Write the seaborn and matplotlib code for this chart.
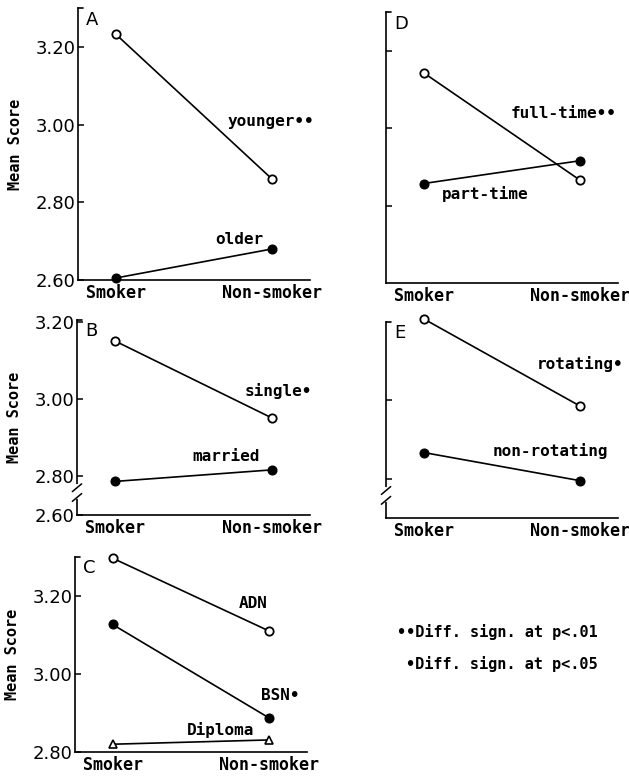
import pandas as pd
import seaborn as sns
import matplotlib.pyplot as plt

groups = ['Smoker', 'Non-smoker']

# panel A: age
younger = [3.233, 2.859]
older = [2.605, 2.680]
# panel B: marital status
single = [3.151, 2.951]
married = [2.787, 2.817]
# panel C: education
adn = [3.297, 3.110]
bsn = [3.127, 2.887]
diploma = [2.820, 2.831]
# panel D: employment
fulltime = [3.143, 2.865]
parttime = [2.857, 2.916]
# panel E: shift
rotating = [3.208, 2.985]
nonrotating = [2.867, 2.795]

sns.set_style('ticks')
plt.rcParams['font.family'] = ['DejaVu Sans']
for k in ['text.color', 'axes.labelcolor', 'xtick.color', 'ytick.color', 'axes.edgecolor']:
    plt.rcParams[k] = 'black'

LAB = dict(family='DejaVu Sans Mono', weight='bold')
OPEN = dict(marker='o', markerfacecolor='white', markeredgecolor='black', markersize=6, markeredgewidth=1.3)
FILL = dict(marker='o', markerfacecolor='black', markeredgecolor='black', markersize=6.5)
TRI = dict(marker='^', markerfacecolor='white', markeredgecolor='black', markersize=6, markeredgewidth=1.2)

fig = plt.figure(figsize=(6.29, 7.76), dpi=100)


def panel(rect, letter, ylim, yticks, ylabels, series, texts, ylabel=True, brk=None):
    ax = fig.add_axes(rect)
    for vals, style in series:
        df = pd.DataFrame({'group': groups, 'score': vals})
        sns.lineplot(data=df, x='group', y='score', ax=ax, sort=False, color='black',
                     lw=1.2, clip_on=False, zorder=5, **style)
    ax.set_xlim(-0.24, 1.24)
    ax.set_ylim(*ylim)
    ax.set_yticks(yticks)
    ax.set_yticklabels(ylabels, fontsize=13)
    ax.set_xlabel('')
    ax.set_xticks([0, 1])
    ax.set_xticklabels(groups, fontsize=12, **LAB)
    ax.tick_params(axis='x', length=0, pad=3)
    ax.tick_params(axis='y', direction='in', length=4, width=1.1, pad=2)
    sns.despine(ax=ax)
    for s in ['left', 'bottom']:
        ax.spines[s].set_linewidth(1.2)
    # bracket at the top of the y axis
    ax.plot([0, 0.02], [1, 1], transform=ax.transAxes, color='black', lw=1.2, clip_on=False)
    if brk is not None:
        ax.plot([0, 0], [brk - 0.02, brk + 0.04], transform=ax.transAxes, color='white', lw=3, clip_on=False, zorder=6)
        for dy in (-0.02, 0.03):
            ax.plot([-0.02, 0.02], [brk + dy - 0.02, brk + dy + 0.02], transform=ax.transAxes,
                    color='black', lw=1.1, clip_on=False, zorder=7)
    ax.text(0.035, 0.99, letter, transform=ax.transAxes, fontsize=13, va='top', ha='left')
    for tx, x, y in texts:
        ax.text(x, y, tx, fontsize=11.5, ha='center', va='center', **LAB)
    if ylabel:
        ax.set_ylabel('Mean Score', fontsize=11, **LAB)
        ax.yaxis.set_label_coords(-0.235, 0.5)
    else:
        ax.set_ylabel('')
    return ax


panel([0.124, 0.6392, 0.3688, 0.3505], 'A', (2.60, 3.30),
      [2.60, 2.80, 3.00, 3.20], ['2.60', '2.80', '3.00', '3.20'],
      [(younger, OPEN), (older, FILL)],
      [('younger••', 0.99, 3.009), ('older', 0.79, 2.703)])

panel([0.6137, 0.6353, 0.3688, 0.3492], 'D', (2.60, 3.30),
      [2.80, 3.00, 3.20], ['', '', ''],
      [(fulltime, OPEN), (parttime, FILL)],
      [('full-time••', 0.89, 3.038), ('part-time', 0.39, 2.829)], ylabel=False)

panel([0.1224, 0.3363, 0.3704, 0.2513], 'B', (2.70, 3.205),
      [2.70, 2.80, 3.00, 3.20], ['2.60', '2.80', '3.00', '3.20'],
      [(single, OPEN), (married, FILL)],
      [('single•', 1.04, 3.022), ('married', 0.71, 2.852)], brk=0.11)

panel([0.6137, 0.3325, 0.3688, 0.2526], 'E', (2.70, 3.20),
      [2.80, 3.00], ['', ''],
      [(rotating, OPEN), (nonrotating, FILL)],
      [('rotating•', 1.00, 3.092), ('non-rotating', 0.81, 2.872)], ylabel=False, brk=0.11)

panel([0.1192, 0.0309, 0.3688, 0.2513], 'C', (2.80, 3.30),
      [2.80, 3.00, 3.20], ['2.80', '3.00', '3.20'],
      [(adn, OPEN), (bsn, FILL), (diploma, TRI)],
      [('ADN', 0.90, 3.182), ('BSN•', 1.07, 2.945), ('Diploma', 0.69, 2.856)])

fig.text(598 / 629, 1 - 632 / 776, '••Diff. sign. at p<.01', fontsize=11, ha='right', va='center', **LAB)
fig.text(598 / 629, 1 - 664 / 776, '•Diff. sign. at p<.05', fontsize=11, ha='right', va='center', **LAB)

fig.savefig('out.png', dpi=100)
